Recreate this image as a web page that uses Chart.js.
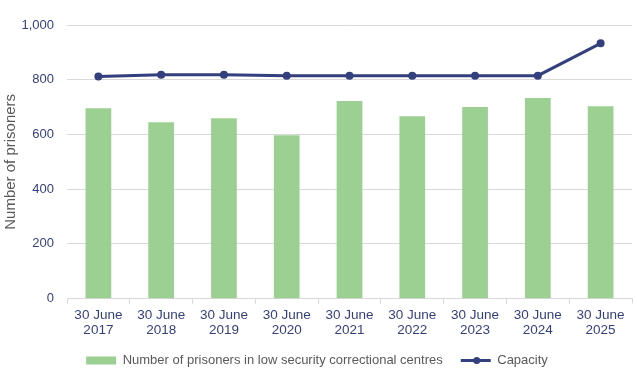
<!DOCTYPE html>
<html>
<head>
<meta charset="utf-8">
<script src="https://cdn.jsdelivr.net/npm/chart.js@4"></script>
<style>
  html, body { margin: 0; padding: 0; background: #fff; }
  #wrap { width: 637px; height: 377px; }
</style>
</head>
<body>
<div id="wrap"><canvas id="chart"></canvas></div>
<script>
var categories = [
    ['30 June', '2017'], ['30 June', '2018'], ['30 June', '2019'],
    ['30 June', '2020'], ['30 June', '2021'], ['30 June', '2022'],
    ['30 June', '2023'], ['30 June', '2024'], ['30 June', '2025']
];
var prisoners = [696, 645, 659, 597, 722, 667, 700, 733, 703];
var capacity = [812, 818, 818, 815, 815, 815, 815, 815, 933];
var yTicks = [0, 200, 400, 600, 800, 1000];

var navy = '#343F7E';
var green = '#9BD092';
var gridColor = '#D9D9D9';

// draw the marker dot on the line legend item
var legendDot = {
    id: 'legendDot',
    afterDraw: function (chart) {
        var legend = chart.legend;
        if (!legend || !legend.legendHitBoxes) return;
        var box = legend.legendHitBoxes[1];
        var ctx = chart.ctx;
        ctx.save();
        ctx.fillStyle = navy;
        ctx.beginPath();
        ctx.arc(box.left + 16, box.top + box.height / 2, 3.5, 0, Math.PI * 2);
        ctx.fill();
        ctx.restore();
    }
};

new Chart(document.getElementById('chart'), {
    type: 'bar',
    data: {
        labels: categories,
        datasets: [
            {
                type: 'line',
                label: 'Capacity',
                data: capacity,
                borderColor: navy,
                backgroundColor: navy,
                borderWidth: 3,
                pointRadius: 4,
                pointHoverRadius: 4,
                pointBackgroundColor: navy,
                pointBorderWidth: 0,
                tension: 0,
                order: 0
            },
            {
                label: 'Number of prisoners in low security correctional centres',
                data: prisoners,
                backgroundColor: green,
                categoryPercentage: 1,
                barPercentage: 0.41,
                order: 1
            }
        ]
    },
    options: {
        responsive: true,
        maintainAspectRatio: false,
        animation: false,
        layout: { padding: { left: 2, right: 5, top: 25, bottom: 0 } },
        plugins: {
            tooltip: { enabled: false },
            legend: {
                position: 'bottom',
                reverse: true,
                labels: {
                    usePointStyle: true,
                    pointStyleWidth: 30,
                    boxHeight: 8,
                    padding: 18,
                    color: '#595959',
                    font: { family: 'Liberation Sans', size: 13 },
                    generateLabels: function (chart) {
                        return chart.data.datasets.map(function (ds, i) {
                            var isLine = ds.type === 'line';
                            return {
                                text: ds.label,
                                fillStyle: isLine ? navy : green,
                                strokeStyle: isLine ? navy : green,
                                lineWidth: isLine ? 3 : 0,
                                pointStyle: isLine ? 'line' : 'rect',
                                datasetIndex: i,
                                fontColor: '#595959'
                            };
                        });
                    }
                }
            }
        },
        scales: {
            x: {
                offset: true,
                afterFit: function (axis) { axis.height = axis.height - 6; },
                grid: {
                    offset: true,
                    drawOnChartArea: false,
                    color: gridColor,
                    tickLength: 5
                },
                border: { display: true, color: gridColor },
                ticks: {
                    color: navy,
                    maxRotation: 0,
                    autoSkip: false,
                    padding: 5,
                    font: { family: 'Liberation Sans', size: 13.5, lineHeight: 1.05 }
                }
            },
            y: {
                min: 0,
                max: 1000,
                afterBuildTicks: function (axis) {
                    axis.ticks = yTicks.map(function (v) { return { value: v }; });
                },
                afterFit: function (axis) { axis.width = 65; },
                grid: { color: gridColor, drawTicks: false },
                border: { display: false },
                ticks: {
                    color: navy,
                    padding: 13,
                    font: { family: 'Liberation Sans', size: 13 },
                    callback: function (v) { return v.toLocaleString('en-US'); }
                },
                title: {
                    display: true,
                    text: 'Number of prisoners',
                    color: '#595959',
                    font: { family: 'Liberation Sans', size: 15 },
                    padding: { top: 0, bottom: 4 }
                }
            }
        }
    },
    plugins: [legendDot]
});
</script>
</body>
</html>
